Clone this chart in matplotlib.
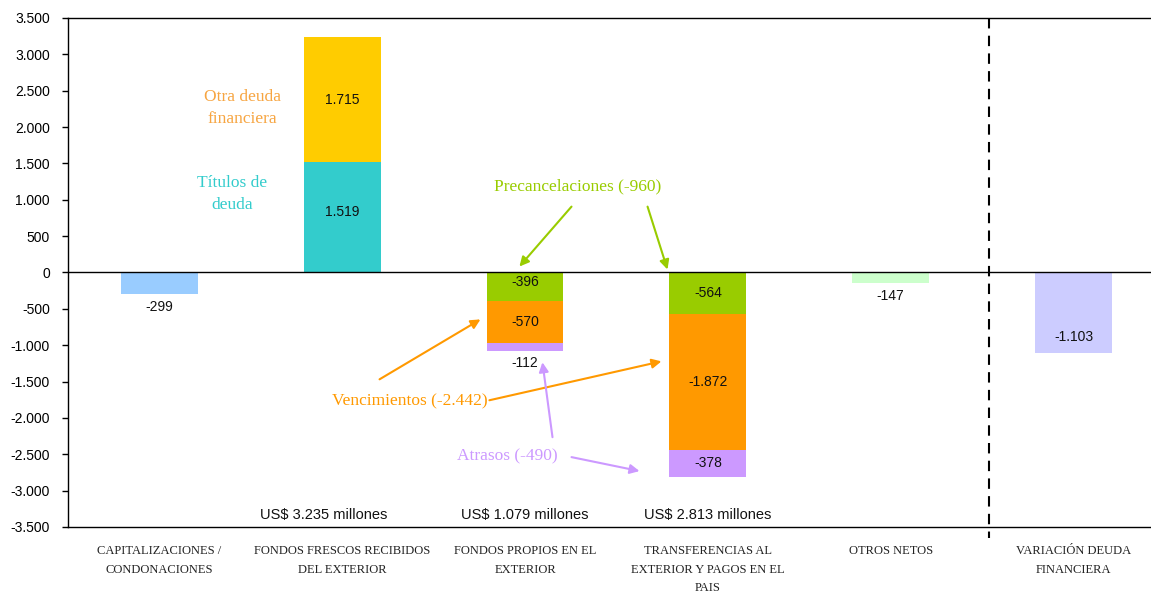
import matplotlib
matplotlib.use("Agg")
import matplotlib.pyplot as plt
import numpy as np
from matplotlib.ticker import FuncFormatter

# ---------- Data (US$ millones) ----------
CATEGORIES = [
    "CAPITALIZACIONES /\nCONDONACIONES",
    "FONDOS FRESCOS RECIBIDOS\nDEL EXTERIOR",
    "FONDOS PROPIOS EN EL\nEXTERIOR",
    "TRANSFERENCIAS AL\nEXTERIOR Y PAGOS EN EL\nPAIS",
    "OTROS NETOS",
    "VARIACIÓN DEUDA\nFINANCIERA",
]
CAPITALIZACIONES = -299
TITULOS_DEUDA = 1519
OTRA_DEUDA = 1715
# fondos propios / transferencias
PRECANCELACIONES = [-396, -564]
VENCIMIENTOS = [-570, -1872]
ATRASOS = [-112, -378]
OTROS_NETOS = -147
VARIACION = -1103
TOTALES = [3235, 1079, 2813]

YTICKS = np.arange(-3500, 3501, 500)

COLORS = {
    "cap": "#99CCFF",
    "titulos": "#33CCCC",
    "otra": "#FFCC00",
    "precanc": "#99CC00",
    "venc": "#FF9900",
    "atrasos": "#CC99FF",
    "otros": "#CCFFCC",
    "variacion": "#CCCCFF",
}
SANS = ["Liberation Sans", "DejaVu Sans"]
NARROW = ["Liberation Sans Narrow", "Liberation Sans", "DejaVu Sans"]
SERIF = ["Liberation Serif", "DejaVu Serif"]
W = 0.42


def miles(v):
    return f"{v:,.0f}".replace(",", ".")


fig = plt.figure(figsize=(11.51, 5.92), dpi=100)
ax = fig.add_axes([0.0591, 0.1098, 0.953, 0.8598])

x = np.arange(len(CATEGORIES))

# simple bars
ax.bar(x[0], CAPITALIZACIONES, W, color=COLORS["cap"])
ax.bar(x[4], OTROS_NETOS, W, color=COLORS["otros"])
ax.bar(x[5], VARIACION, W, color=COLORS["variacion"])

# fondos frescos: stacked positive
ax.bar(x[1], TITULOS_DEUDA, W, color=COLORS["titulos"])
ax.bar(x[1], OTRA_DEUDA, W, bottom=TITULOS_DEUDA, color=COLORS["otra"])

# stacked negative
pos = x[2:4]
pre = np.array(PRECANCELACIONES)
ven = np.array(VENCIMIENTOS)
atr = np.array(ATRASOS)
ax.bar(pos, pre, W, color=COLORS["precanc"])
ax.bar(pos, ven, W, bottom=pre, color=COLORS["venc"])
ax.bar(pos, atr, W, bottom=pre + ven, color=COLORS["atrasos"])

# value labels
lab = dict(ha="center", va="center", fontsize=10, family=SANS, color="#111111")
ax.text(x[0], CAPITALIZACIONES - 180, miles(CAPITALIZACIONES), **lab)
ax.text(x[4], OTROS_NETOS - 180, miles(OTROS_NETOS), **lab)
ax.text(x[5], VARIACION * 0.8, miles(VARIACION), **lab)
ax.text(x[1], TITULOS_DEUDA * 0.55, miles(TITULOS_DEUDA), **lab)
ax.text(x[1], TITULOS_DEUDA + OTRA_DEUDA / 2, miles(OTRA_DEUDA), **lab)
for i, p in enumerate(pos):
    ax.text(p, pre[i] * (0.33 if i == 0 else 0.5), miles(pre[i]), **lab)
    ax.text(p, pre[i] + ven[i] / 2, miles(ven[i]), **lab)
ax.text(pos[0], pre[0] + ven[0] + atr[0] - 170, miles(atr[0]), **lab)
ax.text(pos[1], pre[1] + ven[1] + atr[1] / 2, miles(atr[1]), **lab)

# totals under stacked bars
for xi, tot in zip([x[1] - 0.1, x[2], x[3]], TOTALES):
    ax.text(xi, -3330, f"US$ {miles(tot)} millones", ha="center", va="center",
            fontsize=10.5, family=NARROW, color="#111111")

# annotations
ann = dict(ha="center", va="center", fontsize=12.5, family=SERIF)
ax.text(0.454, 2260, "Otra deuda\nfinanciera", color="#F7A541", linespacing=1.5, **ann)
ax.text(0.40, 1075, "Títulos de\ndeuda", color="#33CCCC", linespacing=1.5, **ann)
ax.text(2.287, 1180, f"Precancelaciones ({miles(pre.sum())})", color="#99CC00", **ann)
ax.text(1.368, -1771, f"Vencimientos ({miles(ven.sum())})", color="#FF9900", **ann)
ax.text(1.904, -2525, f"Atrasos ({miles(atr.sum())})", color="#CC99FF", **ann)


def arrow(x0, y0, x1, y1, color):
    ax.annotate("", xy=(x1, y1), xytext=(x0, y0),
                arrowprops=dict(arrowstyle="-|>", color=color, lw=1.5,
                                mutation_scale=14, shrinkA=0, shrinkB=0))


arrow(2.254, 906, 1.969, 82, "#99CC00")
arrow(2.670, 906, 2.779, 41, "#99CC00")
arrow(1.204, -1469, 1.756, -645, "#FF9900")
arrow(1.805, -1757, 2.746, -1222, "#FF9900")
arrow(2.150, -2265, 2.095, -1235, "#CC99FF")
arrow(2.254, -2539, 2.626, -2731, "#CC99FF")

# separator before the total column
ax.plot([4.54, 4.54], [3500, -3650], color="black", lw=1.5,
        linestyle=(0, (5, 3.5)), clip_on=False, zorder=5)

ax.axhline(0, color="black", lw=1)

# axes
ax.set_xlim(-0.5, 5.5)
ax.set_ylim(-3500, 3500)
ax.set_yticks(YTICKS)
ax.yaxis.set_major_formatter(FuncFormatter(lambda v, _: miles(v)))
ax.tick_params(axis="y", direction="out", length=4, width=1, pad=9,
               labelsize=10, colors="black")
for t in ax.get_yticklabels():
    t.set_family(SANS)
ax.set_xticks([])
ax.spines["right"].set_visible(False)
for s in ("left", "top", "bottom"):
    ax.spines[s].set_linewidth(1)

for xi, name in zip(x, CATEGORIES):
    ax.text(xi, -0.035, name, transform=ax.get_xaxis_transform(), ha="center",
            va="top", fontsize=9, family=SERIF, color="#222222", linespacing=1.75)

fig.savefig("out.png", dpi=100)
